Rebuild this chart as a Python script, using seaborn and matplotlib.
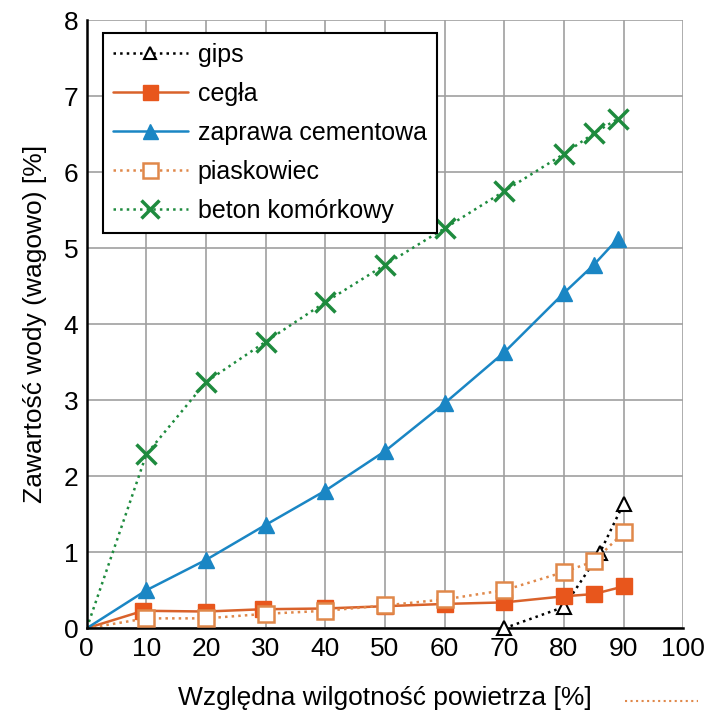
import numpy as np
import pandas as pd
import seaborn as sns
import matplotlib.pyplot as plt
from matplotlib.lines import Line2D

# data
gips_x = [70, 80, 86, 90]
gips_y = [0.0, 0.28, 0.99, 1.64]

cegla_x = [0, 9.5, 20, 29.5, 40, 50, 60, 70, 80, 85, 90]
cegla_y = [0, 0.23, 0.22, 0.25, 0.26, 0.29, 0.32, 0.34, 0.42, 0.45, 0.55]

zaprawa_x = [0, 10, 20, 30, 40, 50, 60, 70, 80, 85, 89]
zaprawa_y = [0, 0.50, 0.90, 1.36, 1.81, 2.33, 2.96, 3.63, 4.41, 4.78, 5.12]

piask_x = [0, 10, 20, 30, 40, 50, 60, 70, 80, 85, 90]
piask_y = [0, 0.13, 0.13, 0.19, 0.23, 0.30, 0.38, 0.50, 0.74, 0.88, 1.26]

beton_x = [0, 10, 20, 30, 40, 50, 60, 70, 80, 85, 89]
beton_y = [0, 2.29, 3.24, 3.77, 4.29, 4.78, 5.26, 5.75, 6.24, 6.51, 6.70]

x_ticks = [0, 10, 20, 30, 40, 50, 60, 70, 80, 90, 100]
y_ticks = [0, 1, 2, 3, 4, 5, 6, 7, 8]

sns.set_style("white")
plt.rcParams['font.family'] = ['Liberation Sans', 'DejaVu Sans']
plt.rcParams['text.color'] = 'black'
plt.rcParams['axes.labelcolor'] = 'black'

fig = plt.figure(figsize=(7.23, 7.18), dpi=100)
ax = fig.add_axes([0.120, 0.125, 0.825, 0.847])

# (label, x, y, colour, linestyle, marker, marker face, size, edge width, markers from index)
series = [
    ("gips", gips_x, gips_y, "black", ":", "^", "white", 10, 1.5, 0),
    ("cegła", cegla_x, cegla_y, "#D9622B", "-", "s", "#E8561C", 12, 1.0, 1),
    ("zaprawa cementowa", zaprawa_x, zaprawa_y, "#1A86C4", "-", "^", "#1A86C4", 12, 1.0, 1),
    ("piaskowiec", piask_x, piask_y, "#E0884A", ":", "s", "white", 12, 1.8, 1),
    ("beton komórkowy", beton_x, beton_y, "#1E8B3E", ":", "x", "#1E8B3E", 15, 2.5, 1),
]

handles = []
for label, xs, ys, col, ls, mk, mfc, ms, mew, start in series:
    df = pd.DataFrame({"x": xs, "y": ys})
    sns.lineplot(data=df, x="x", y="y", ax=ax, color=col, linestyle=ls,
                 linewidth=1.8, legend=False, sort=True, estimator=None)
    dm = df.iloc[start:]
    mec = col if mk != "s" or mfc == "white" else mfc
    ax.plot(dm["x"], dm["y"], linestyle="none", marker=mk, markersize=ms,
            markerfacecolor=mfc, markeredgecolor=mec,
            markeredgewidth=mew, zorder=3, clip_on=False)
    handles.append(Line2D([], [], color=col, linestyle=ls, linewidth=1.8, marker=mk,
                          markersize=ms * 0.9, markerfacecolor=mfc,
                          markeredgecolor=mec, markeredgewidth=mew, label=label))

ax.set_xlim(0, 100)
ax.set_ylim(0, 8)
ax.set_xticks(x_ticks)
ax.set_yticks(y_ticks)
ax.grid(True, color="#A0A0A0", linewidth=1.2)
ax.set_axisbelow(True)
for s in ["top", "right"]:
    ax.spines[s].set_visible(False)
for s in ["left", "bottom"]:
    ax.spines[s].set_color("black")
    ax.spines[s].set_linewidth(1.8)
ax.tick_params(axis="both", labelsize=19, length=0, pad=6, colors="black")

ax.set_xlabel("Względna wilgotność powietrza [%]", fontsize=19, labelpad=18)
ax.set_ylabel("Zawartość wody (wagowo) [%]", fontsize=19, labelpad=12)

leg = ax.legend(handles=handles, loc="upper left", bbox_to_anchor=(0.027, 0.979),
                borderaxespad=0, fontsize=18, frameon=True, fancybox=False,
                framealpha=1, edgecolor="black", handlelength=3.0,
                handletextpad=0.4, labelspacing=0.6, borderpad=0.4)
leg.get_frame().set_linewidth(1.5)

# short dotted stroke to the right of the x label
fig.add_artist(Line2D([0.865, 0.965], [0.024, 0.024], color="#E0884A",
                      linestyle=":", linewidth=1.5, transform=fig.transFigure))

fig.savefig("out.png", dpi=100, facecolor="white")
